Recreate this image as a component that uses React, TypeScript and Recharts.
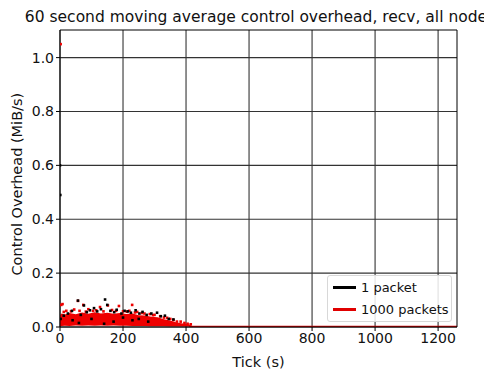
import {
  Area,
  CartesianGrid,
  ComposedChart,
  Legend,
  Line,
  ReferenceLine,
  Scatter,
  XAxis,
  YAxis,
} from "recharts";

// x ticks (s), y ticks (MiB/s)
const xTicks = [0, 200, 400, 600, 800, 1000, 1200];
const yTicks = [0, 0.2, 0.4, 0.6, 0.8, 1.0];
const X_MAX = 1260;
const Y_MAX = 1.1025;

// dense red cloud of the 1000-packet runs: [tick, low, high]
const redBand: [number, number, number][] = [
  [0, 0.003, 0.045], [5, 0.004, 0.05], [15, 0.005, 0.046], [30, 0.004, 0.052],
  [50, 0.006, 0.047], [70, 0.005, 0.054], [90, 0.006, 0.049], [110, 0.005, 0.055],
  [130, 0.006, 0.05], [150, 0.005, 0.053], [170, 0.006, 0.049], [190, 0.005, 0.052],
  [210, 0.005, 0.048], [230, 0.004, 0.05], [250, 0.004, 0.044], [270, 0.004, 0.043],
  [290, 0.003, 0.038], [310, 0.003, 0.036], [330, 0.003, 0.029], [350, 0.002, 0.024],
  [370, 0.002, 0.017], [390, 0.002, 0.013], [410, 0.002, 0.009], [420, 0.002, 0.004],
];

// tail after the runs finish
const redTail: [number, number][] = [
  [410, 0.002], [1260, 0.002],
];

const redPoints: [number, number][] = [
  [2, 1.05], [4, 0.082], [8, 0.085], [20, 0.06], [45, 0.065], [57, 0.097],
  [74, 0.082], [90, 0.066], [105, 0.06], [127, 0.074], [152, 0.08], [165, 0.063],
  [187, 0.078], [200, 0.058], [220, 0.06], [229, 0.082], [245, 0.056], [260, 0.052],
  [285, 0.048], [300, 0.045], [330, 0.035], [350, 0.03], [371, 0.02], [395, 0.015],
  [405, 0.012], [415, 0.01], [12, 0.056], [35, 0.058], [62, 0.06], [82, 0.057],
  [115, 0.062], [138, 0.058], [178, 0.06], [212, 0.057], [238, 0.054], [268, 0.05],
  [295, 0.044], [318, 0.04], [340, 0.034], [360, 0.026], [383, 0.02],
];

const blackPoints: [number, number][] = [
  [0, 0.6], [1, 0.49], [2, 0.03], [12, 0.042], [25, 0.05], [38, 0.06], [57, 0.098],
  [66, 0.045], [76, 0.08], [85, 0.055], [95, 0.062], [108, 0.07], [118, 0.058],
  [130, 0.066], [143, 0.102], [150, 0.082], [160, 0.06], [172, 0.055], [180, 0.064],
  [195, 0.05], [205, 0.06], [215, 0.058], [225, 0.053], [240, 0.062], [252, 0.05],
  [262, 0.056], [275, 0.045], [290, 0.05], [308, 0.053], [320, 0.04], [333, 0.042],
  [345, 0.03], [360, 0.028], [40, 0.025], [100, 0.03], [170, 0.02], [230, 0.025],
  [280, 0.02], [60, 0.015], [140, 0.012], [200, 0.035], [250, 0.03],
];

const font = "'DejaVu Sans', sans-serif";
const tickStyle = { fontSize: 14, fill: "#111", fontFamily: font };
const labelStyle = { fontSize: 14.5, fill: "#111", fontFamily: font };

const bandData = redBand.map(([x, lo, hi]) => ({ x, band: [lo, hi] }));
const tailData = redTail.map(([x, y]) => ({ x, y }));
const redData = redPoints.map(([x, y]) => ({ x, y }));
const blackData = blackPoints.map(([x, y]) => ({ x, y }));

const dot = (color: string) => (p: any) => (
  <rect x={p.cx - 1.3} y={p.cy - 1.3} width={2.6} height={2.6} fill={color} />
);

const legendItems = [
  { label: "1 packet", color: "#000" },
  { label: "1000 packets", color: "#e00000" },
];

function LegendBox() {
  return (
    <div
      style={{
        position: "absolute",
        left: 327,
        top: 275,
        width: 125,
        height: 47,
        background: "rgba(255,255,255,0.85)",
        border: "1px solid #d8d8d8",
        borderRadius: 3,
        fontFamily: font,
        fontSize: 13,
        color: "#111",
        boxSizing: "border-box",
      }}
    >
      {legendItems.map((it, i) => (
        <div
          key={it.label}
          style={{ position: "absolute", left: 5, top: 3 + i * 22, display: "flex", alignItems: "center", lineHeight: "17px" }}
        >
          <span style={{ display: "inline-block", width: 23, height: 3, background: it.color, marginRight: 5 }} />
          <span>{it.label}</span>
        </div>
      ))}
    </div>
  );
}

export default function App() {
  return (
    <div style={{ position: "absolute", left: 0, top: 0, width: 484, height: 372, overflow: "hidden", background: "#fff" }}>
      <div
        style={{
          position: "absolute",
          left: 0,
          top: 8,
          width: 520,
          textAlign: "center",
          whiteSpace: "nowrap",
          fontFamily: font,
          fontSize: 15.5,
          lineHeight: "18px",
          color: "#111",
        }}
      >
        60 second moving average control overhead, recv, all nodes
      </div>
      <ComposedChart width={484} height={372} margin={{ top: 30, right: 27, bottom: 0, left: 0 }}>
        <CartesianGrid stroke="#333" strokeWidth={1.1} horizontalValues={yTicks} verticalValues={xTicks} />
        <XAxis
          type="number"
          dataKey="x"
          domain={[0, X_MAX]}
          ticks={xTicks}
          allowDataOverflow
          height={45}
          tickSize={4}
          tick={tickStyle}
          stroke="#000"
          label={{ value: "Tick (s)", position: "insideBottom", offset: 5, style: labelStyle }}
        />
        <YAxis
          type="number"
          domain={[0, Y_MAX]}
          ticks={yTicks}
          allowDataOverflow
          width={60}
          tickSize={4}
          tick={tickStyle}
          stroke="#000"
          tickFormatter={(v: number) => v.toFixed(1)}
          label={{ value: "Control Overhead (MiB/s)", angle: -90, position: "insideLeft", offset: 17, dy: 97, style: labelStyle }}
        />
        <Area
          data={bandData}
          dataKey="band"
          stroke="none"
          fill="#ee0000"
          fillOpacity={1}
          isAnimationActive={false}
          type="linear"
        />
        <Line data={tailData} dataKey="y" stroke="#e00000" strokeWidth={1.5} dot={false} isAnimationActive={false} />
        <Scatter data={redData} dataKey="y" shape={dot("#ee0000")} isAnimationActive={false} />
        <Scatter data={blackData} dataKey="y" shape={dot("#000")} isAnimationActive={false} />
        <ReferenceLine x={X_MAX} stroke="#000" strokeWidth={1} />
        <ReferenceLine y={Y_MAX} stroke="#000" strokeWidth={1} />
        <Legend content={() => null} />
      </ComposedChart>
      <LegendBox />
    </div>
  );
}
